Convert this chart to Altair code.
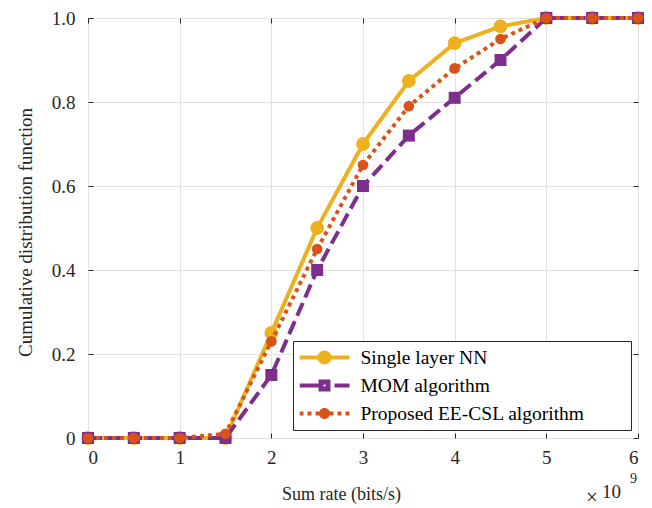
import altair as alt
import pandas as pd

# ---------------- data ----------------
x_vals = [0, 0.5, 1, 1.5, 2, 2.5, 3, 3.5, 4, 4.5, 5, 5.5, 6]
nn_cdf = [0, 0, 0, 0, 0.25, 0.50, 0.70, 0.85, 0.94, 0.98, 1, 1, 1]
mom_cdf = [0, 0, 0, 0, 0.15, 0.40, 0.60, 0.72, 0.81, 0.90, 1, 1, 1]
ee_cdf = [0, 0, 0, 0.01, 0.23, 0.45, 0.65, 0.79, 0.88, 0.95, 1, 1, 1]
series_names = ["Single layer NN", "MOM algorithm", "Proposed EE-CSL algorithm"]
series_colors = ["#EDB120", "#7E2F8E", "#D95319"]
x_ticks = [0, 1, 2, 3, 4, 5, 6]
y_ticks = [0, 0.2, 0.4, 0.6, 0.8, 1.0]
x_title = "Sum rate (bits/s)"
y_title = "Cumulative distribution function"

# ---------------- styling ----------------
W, H = 550, 420
FONT = "Liberation Serif"
AX = "#262626"
GRID = "#e2e2e2"

dashes = [[1, 0], [14, 6], [4, 4]]
shapes = ["circle", "square", "circle"]
sizes = [190, 144, 115]

# legend glyphs (line + marker) as custom symbol paths in [-1, 1]
legend_paths = [
    "M-1,-0.08H1V0.08H-1Z M0.28,0A0.28,0.28,0,1,1,-0.28,0A0.28,0.28,0,1,1,0.28,0Z",
    "M-1,-0.08H-0.2V0.08H-1Z M-0.24,-0.24H0.24V0.24H-0.24Z M-0.04,-0.04V0.04H0.04V-0.04Z M0.4,-0.08H1V0.08H0.4Z",
    "M-1,-0.08H-0.84V0.08H-1Z M-0.68,-0.08H-0.52V0.08H-0.68Z M-0.36,-0.08H-0.2V0.08H-0.36Z "
    "M0.22,0A0.22,0.22,0,1,1,-0.22,0A0.22,0.22,0,1,1,0.22,0Z "
    "M0.2,-0.08H0.36V0.08H0.2Z M0.52,-0.08H0.68V0.08H0.52Z M0.84,-0.08H1V0.08H0.84Z",
]

rows = []
for name, vals in zip(series_names, [nn_cdf, mom_cdf, ee_cdf]):
    for xv, yv in zip(x_vals, vals):
        rows.append({"series": name, "x": xv, "y": yv})
df = pd.DataFrame(rows)

xs = alt.Scale(domain=[0, 6], nice=False, zero=False)
ys = alt.Scale(domain=[0, 1], nice=False, zero=False)

main_x_axis = alt.Axis(
    values=x_ticks, format="d", grid=True, gridColor=GRID, gridWidth=1,
    ticks=False, tickSize=0, domain=False,
    labelFont=FONT, labelFontSize=19, labelColor=AX, labelPadding=10,
    title=x_title, titleFont=FONT, titleFontSize=18, titleFontWeight="normal",
    titleColor=AX, titleX=253, titleY=61, titleBaseline="alphabetic",
    titleAlign="center", titleAngle=0,
)
main_y_axis = alt.Axis(
    values=y_ticks, grid=True, gridColor=GRID, gridWidth=1,
    ticks=False, tickSize=0, domain=False,
    labelExpr="datum.value == 0 ? '0' : format(datum.value, '.1f')",
    labelFont=FONT, labelFontSize=19, labelColor=AX, labelPadding=13,
    title=y_title, titleFont=FONT, titleFontSize=19, titleFontWeight="normal",
    titleColor=AX, titleX=-57, titleY=214, titleAngle=270,
    titleBaseline="alphabetic", titleAlign="center",
)


def tick_axis(orient, offset, values):
    return alt.Axis(
        orient=orient, offset=offset, values=values, labels=False, grid=False,
        domain=False, ticks=True, tickSize=5, tickColor=AX, tickWidth=1, title=None,
    )


axes_for_layer = {
    ("line", 0): (main_x_axis, main_y_axis),
    ("point", 0): (tick_axis("top", -H, x_ticks), tick_axis("right", -W, y_ticks)),
    ("line", 1): (tick_axis("bottom", -H, x_ticks), tick_axis("left", -W, y_ticks)),
}

layers = []
for i, name in enumerate(series_names):
    base = alt.Chart(df).transform_filter(alt.datum.series == name)
    xa, ya = axes_for_layer.get(("line", i), (None, None))
    line = base.mark_line(
        color=series_colors[i], strokeWidth=4, strokeDash=dashes[i], strokeCap="butt"
    ).encode(
        x=alt.X("x:Q", scale=xs, axis=xa),
        y=alt.Y("y:Q", scale=ys, axis=ya),
    )
    xa, ya = axes_for_layer.get(("point", i), (None, None))
    pts = base.mark_point(
        shape=shapes[i], filled=True, color=series_colors[i], size=sizes[i], opacity=1
    ).encode(
        x=alt.X("x:Q", scale=xs, axis=xa),
        y=alt.Y("y:Q", scale=ys, axis=ya),
    )
    layers += [line, pts]

# trailing no-break spaces (kept by a zero-width space) widen the legend box like MATLAB's
PAD = "\u00a0" * 8 + "\u200b"
leg = dict(
    orient="none", legendX=205, legendY=323, title=None, direction="vertical",
    labelFont=FONT, labelFontSize=19.5, labelColor="#000000", labelOffset=11,
    labelLimit=600, symbolSize=2500, symbolStrokeWidth=0, symbolOpacity=1,
    strokeColor=AX, fillColor="white", padding=6.5, rowPadding=8, clipHeight=20,
    labelExpr="datum.label + '" + PAD + "'",
)
legend_layer = alt.Chart(pd.DataFrame({"series": series_names})).mark_point(
    filled=True, opacity=1
).transform_filter("false").encode(
    color=alt.Color("series:N", scale=alt.Scale(domain=series_names, range=series_colors),
                    legend=alt.Legend(**leg)),
    shape=alt.Shape("series:N", scale=alt.Scale(domain=series_names, range=legend_paths),
                    legend=alt.Legend(**leg)),
)
layers.append(legend_layer)

# "x10^9" exponent annotation
exp_parts = [("×", 504, 486, 21, "center"), ("10", 514, 480, 19, "left"), ("9", 542, 465, 14, "left")]
for txt, px, py, fs, al in exp_parts:
    layers.append(
        alt.Chart(pd.DataFrame({"t": [txt]})).mark_text(
            font=FONT, fontSize=fs, color=AX, align=al, baseline="alphabetic"
        ).encode(text="t:N", x=alt.value(px), y=alt.value(py))
    )

chart = alt.layer(*layers).resolve_axis(x="independent", y="independent").properties(
    width=W, height=H,
    autosize=alt.AutoSizeParams(type="none"),
    padding={"left": 80, "top": 10, "right": 6, "bottom": 70},
).configure_view(stroke=AX, strokeWidth=1).configure(background="white")

chart.save("out.html", embed_options={"renderer": "svg", "actions": False})
